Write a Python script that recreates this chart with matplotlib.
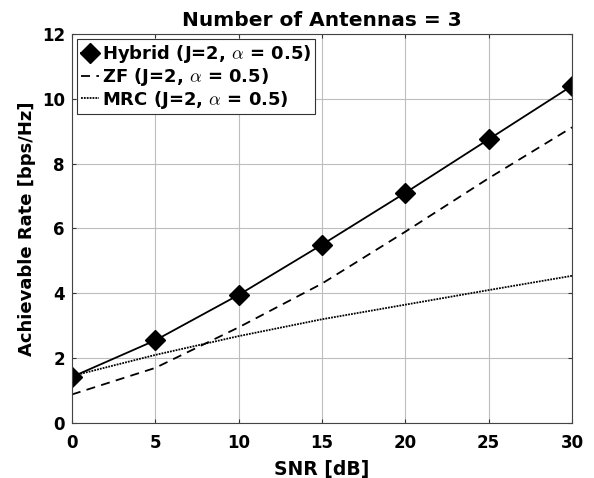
import matplotlib
matplotlib.use("Agg")
import matplotlib.pyplot as plt

snr = [0, 5, 10, 15, 20, 25, 30]
hybrid = [1.42, 2.55, 3.95, 5.5, 7.1, 8.75, 10.4]
zf = [0.88, 1.7, 2.95, 4.3, 5.9, 7.55, 9.12]
mrc = [1.45, 2.1, 2.68, 3.2, 3.65, 4.1, 4.54]

xticks = [0, 5, 10, 15, 20, 25, 30]
yticks = [0, 2, 4, 6, 8, 10, 12]

plt.rcParams['font.family'] = ['DejaVu Sans']
plt.rcParams['font.weight'] = 'bold'
plt.rcParams['mathtext.fontset'] = 'cm'

fig = plt.figure(figsize=(5.94, 4.78), dpi=100)
ax = fig.add_axes([0.121, 0.115, 0.842, 0.814])

ax.plot(snr, hybrid, '-', color='black', lw=1.3, marker='D', markersize=10,
        label=r'Hybrid (J=2, $\alpha$ = 0.5)')
ax.plot(snr, zf, '--', color='black', lw=1.3, dashes=(5, 3.5),
        label=r'ZF (J=2, $\alpha$ = 0.5)')
ax.plot(snr, mrc, ':', color='black', lw=1.3, dashes=(1, 0.6),
        label=r'MRC (J=2, $\alpha$ = 0.5)')

ax.set_xlim(0, 30)
ax.set_ylim(0, 12)
ax.set_xticks(xticks)
ax.set_yticks(yticks)
ax.grid(True, color='#bdbdbd', lw=0.8)
ax.tick_params(direction='in', labelsize=12, length=3, width=0.8, colors='#333333',
               labelcolor='black', top=True, right=True, labeltop=False, labelright=False)
ax.tick_params(axis='x', pad=8)
ax.tick_params(axis='y', pad=5)
for lbl in ax.get_xticklabels() + ax.get_yticklabels():
    lbl.set_fontweight('bold')
for s in ax.spines.values():
    s.set_color('#444444')
    s.set_linewidth(0.8)

ax.set_xlabel('SNR [dB]', fontsize=13.5, fontweight='bold', labelpad=6)
ax.set_ylabel('Achievable Rate [bps/Hz]', fontsize=13, fontweight='bold', labelpad=4)
ax.set_title('Number of Antennas = 3', fontsize=14.5, fontweight='bold', pad=6)

leg = ax.legend(loc='upper left', handlelength=1.0, handletextpad=0.15,
                borderaxespad=0.3, fancybox=False, framealpha=1, edgecolor='#333333',
                borderpad=0.2, labelspacing=0.05, prop={'weight': 'bold', 'size': 13})
leg.get_frame().set_linewidth(0.8)

fig.savefig('out.png', dpi=100)
